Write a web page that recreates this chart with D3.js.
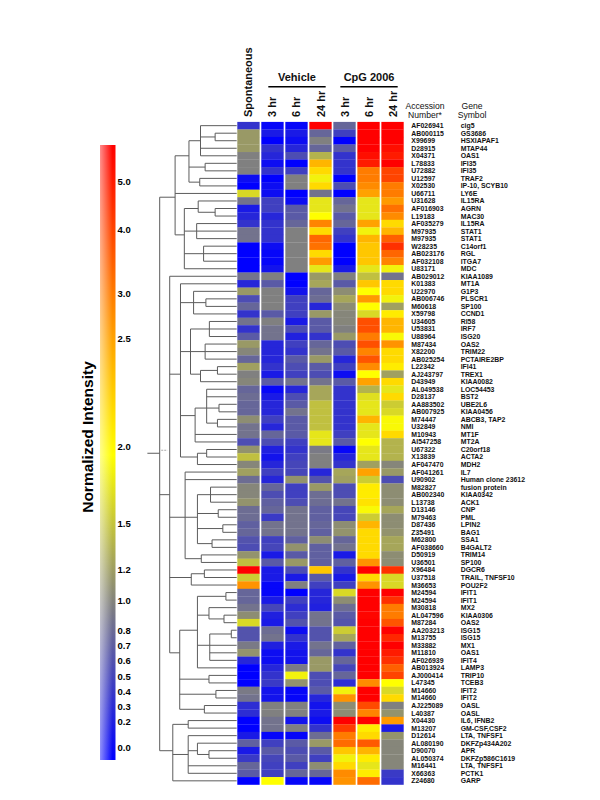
<!DOCTYPE html>
<html>
<head>
<meta charset="utf-8">
<script src="https://cdnjs.cloudflare.com/ajax/libs/d3/7.8.5/d3.min.js"></script>
<style>
   body {margin: 0; background: #fff;}
   text {font-family: "Liberation Sans", Arial, sans-serif; fill: #000;}
   .rowLabel {font-size: 6.9px; font-weight: bold; fill: #111;}
   .colLabel {font-size: 11px; font-weight: bold; fill: #111;}
   .groupLabel {font-size: 11px; font-weight: bold; fill: #111;}
   .headLabel {font-size: 8.6px; fill: #111; -webkit-text-stroke: 0.15px #111;}
   .legendTitle {font-size: 15.5px; font-weight: bold;}
   .dendro {stroke: #5c5c5c; stroke-width: 1; fill: none;}
</style>
</head>
<body>
<svg id="chart" width="600" height="800"></svg>
<script>
var conditions = ["Spontaneous", "V3", "V6", "V24", "C3", "C6", "C24"];
var conditionLabels = ["Spontaneous", "3 hr", "6 hr", "24 hr", "3 hr", "6 hr", "24 hr"];

var accessions = ["AF026941","AB000115","X99699","D28915","X04371","L78833","U72882","U12597","X02530","U66711",
   "U31628","AF016903","L19183","AF035279","M97935","M97935","W28235","AB023176","AF032108","U83171",
   "AB029012","K01383","U22970","AB006746","M60618","X59798","U34605","U53831","U88964","M87434",
   "X82200","AB025254","L22342","AJ243797","D43949","AL049538","D28137","AA883502","AB007925","M74447",
   "U32849","M10943","AI547258","U67322","X13839","AF047470","AF041261","U90902","M82827","AB002340",
   "L13738","D13146","M79463","D87436","Z35491","M62800","AF038660","D50919","U36501","X96484",
   "U37518","M36653","M24594","M24594","M30818","AL047596","M87284","AA203213","M13755","M33882",
   "M11810","AF026939","AB013924","AJ000414","L47345","M14660","M14660","AJ225089","L40387","X04430",
   "M13207","D12614","AL080190","D90070","AL050374","M16441","X66363","Z24680"];

var genes = ["cig5","GS3686","HSXIAPAF1","MTAP44","OAS1","IFI35","IFI35","TRAF2","IP-10, SCYB10","LY6E",
   "IL15RA","AGRN","MAC30","IL15RA","STAT1","STAT1","C14orf1","RGL","ITGA7","MDC",
   "KIAA1089","MT1A","G1P3","PLSCR1","SP100","CCND1","RI58","IRF7","ISG20","OAS2",
   "TRIM22","PCTAIRE2BP","IFI41","TREX1","KIAA0082","LOC54453","BST2","UBE2L6","KIAA0456","ABCB3, TAP2",
   "NMI","MT1F","MT2A","C20orf18","ACTA2","MDH2","IL7","Human clone 23612","fusion protein","KIAA0342",
   "ACK1","CNP","PML","LPIN2","BAG1","SSA1","B4GALT2","TRIM14","SP100","DGCR6",
   "TRAIL, TNFSF10","POU2F2","IFIT1","IFIT1","MX2","KIAA0306","OAS2","ISG15","ISG15","MX1",
   "OAS1","IFIT4","LAMP3","TRIP10","TCEB3","IFIT2","IFIT2","OASL","OASL","IL6, IFNB2",
   "GM-CSF,CSF2","LTA, TNFSF1","DKFZp434A202","APR","DKFZp586C1619","LTA, TNFSF1","PCTK1","GARP"];

//Normalized intensity, one row per gene, same order as conditions
var intensity = [
   [.4,.05,.05,6,.8,6,6],[1.2,.2,.2,.8,.5,6,6],[1.2,0,.1,1,0,6,6],[1.2,.4,.3,.8,.7,6,5.5],
   [1,.3,.6,1.4,.4,5.5,5],[1,.1,0,2.4,.4,5,6],[1,.4,.5,2.2,.4,3,4],[.1,0,1,1.9,0,3,4],
   [0,.1,1,2.2,.6,2.8,3],[1.7,.1,0,.9,0,2.5,3],[.9,.5,.1,1.8,.8,1.8,2.6],[.2,.5,.7,1.8,.9,1.8,3.2],
   [.3,.3,.7,2,.7,1.8,2.8],[.4,.4,.8,2.9,.8,2.5,2.2],[.9,.4,1,2.2,.5,1.9,2.4],[.9,.4,1,3.4,.4,2.4,3.5],
   [0,.1,1,3.2,0,2.3,4.5],[0,.05,1,2.2,0,2.3,3.4],[0,.05,1,2.6,0,2.3,2.9],[0,.15,1,1.8,.2,1.8,1.9],
   [.9,1,0,1.2,1,1.5,.9],[.3,.7,0,1.3,.7,2.3,2.2],[1.2,1,.15,.8,1.1,2,2.2],[.6,1,.5,.85,1.3,2.6,1.9],
   [.8,1,.5,.3,1.1,2,1.25],[.4,.7,.5,1.2,1.05,1.7,2.1],[.9,1,.2,.7,1.05,3.8,2.4],[.4,.9,.6,.7,1,3.8,2.4],
   [.7,.9,.25,.4,1.2,3,1.95],[1.2,.3,.5,.8,.6,3.8,2.7],[1.05,.3,.4,.9,.7,2.9,2.2],[.8,.3,.7,1.2,.3,3.7,2.2],
   [1.25,.4,.6,.7,.5,2.8,2.1],[1,.2,.5,.6,.1,2,1.25],[1.05,.7,.9,.9,.7,2.5,2.2],[.8,.05,.3,1.3,.4,1.4,1.8],
   [.85,.2,.6,1.3,.4,1.75,2.2],[.8,.3,.7,1.5,.4,1.8,1.6],[.8,.3,.9,1.5,.4,1.8,1.7],[1.1,.5,.7,1.5,.4,2.4,1.95],
   [.9,.3,.7,1.5,.4,1.8,1.95],[.9,.8,.7,1.8,.5,1.8,2.2],[.6,.6,.5,1.8,.7,2,1.4],[1.15,.25,.4,.95,.05,1.8,1.4],
   [1.5,.15,.5,1,.3,1.8,1.4],[1.05,.3,.55,1,.4,1.25,1.05],[1.25,.5,.55,.3,1.3,2.5,1.2],[.85,.3,1.15,.65,1.25,1.6,.6],
   [1.05,.8,.5,1.2,.6,2.1,1.1],[1.05,.6,.5,.85,.6,2.1,1.1],[1.15,.75,.6,.85,.9,2.15,1.1],[.85,.8,.9,.75,.55,1.95,1.3],
   [.85,.45,.9,.75,.55,1.6,1.1],[.75,.9,.9,.8,1.1,2.4,1.1],[.8,.9,.9,.75,1.15,2.2,1.15],[.65,.5,.75,1.1,.8,2.2,1.3],
   [.6,.55,1.15,.75,.9,2.2,1.3],[1.15,.2,.7,.75,.2,2.2,1.1],[1.5,.7,1.2,.75,.75,2.7,1.1],[6,.2,.6,2.3,.4,6,4.5],
   [1.6,.2,.2,.7,.2,2.2,1.7],[2.7,.05,1,.5,.5,2.7,1.7],[.8,.05,0,.3,1.7,6,6],[.8,.2,.5,.3,1.1,6,4.5],
   [.9,.55,.35,.25,.85,6,3],[1.1,.25,.5,.9,.7,5.8,3],[1.7,.2,.65,.9,.65,6,3.7],[.65,.85,.1,.65,1.6,6,6],
   [.65,.9,.4,.65,1.3,6,4.7],[.95,.25,.2,.9,.75,6,6],[1.15,.1,.15,.8,.4,6,5],[.3,.1,.15,1.2,.8,6,4.5],
   [0,.3,.95,1.2,.55,6,3.5],[0,.4,1.9,.6,.8,6,4],[0,.45,1.15,.6,.35,2.8,2],[.95,.15,.05,.7,1.9,6,1.7],
   [.9,.15,.05,.3,2.7,6,2.2],[.35,1,1,.15,1.1,3.9,1],[.35,1,1,.2,1.1,2.9,1.15],[0,.9,.15,.1,6,6,2.6],
   [0,.9,1,.4,4.2,2.1,.2],[.2,.05,.05,.85,3,2.2,1.15],[.75,.5,.7,1.2,3.3,3.6,1.05],[.2,.7,.6,.7,2.3,2.4,1.05],
   [.45,.55,.7,.5,1.9,2.1,1.05],[.8,.5,.5,1.1,2.2,1.8,1.05],[.7,.5,.8,.8,2.8,2.1,.45],[0,2,.05,.05,2.7,3.3,.4]
];

//Tree: [distance, child, child, ...], a plain number is a row (1 based)
var dendroTree = [100,
   [80,
      [62, [47, 1, [28, 2, 3], 4, 5], [41, 6, 7], [48, 8, 9]],
      10,
      [68, [50, 11, [28, 12, 13]], [52, 14, 15, 16], [43, 17, 18, 19], 20]],
   [87,
      21,
      [73,
         22,
         [56, 23, [40, 24, 25], 26],
         [60, [35.5, 27, 28, 29], [41, 30, 31, 32], [47, [25, 33, 34], 35]],
         [54, [39, 36, 37, [23, 38, 39], [25, 40, 41]], 42, 43],
         [51, [39, 44, 45], 46]],
      [67, 47, 48, [51, [34, 49, 50, 51], [24, 52, 53], [18, 54, 55], [32, 56, 57]], [46, 58, 59]],
      [59, [42, 60, 61], 62],
      [74,
         [51, [14, 63, 64], [36, 65, [16.5, 66, 67]], [35, [7, 68, 69], 70, 71, 72], 73],
         [36, 74, 75],
         [27, 76, 77],
         [42, 78, 79]]],
   [83, [63, 80, 81], [63, 82, [51, 83, [36, 84, 85]], 86, 87], 88]];
var rootStemDistance = 116;

var legendTicks = [0, .2, .3, .4, .5, .6, .7, .8, 1, 1.2, 1.5, 2, 2.5, 3, 4, 5];
var legendAnchors = [0, .2, 1, 1.5, 2, 2.5, 3, 4, 5];
var legendAnchorsY = [747, 721.7, 600, 523.3, 446, 338.3, 293.5, 229.3, 181.7];
var colorAnchors = [0, 1, 2, 2.5, 3, 4, 5, 6];
var colorStops = ["#0000ff", "#808080", "#ffff00", "#ffa200", "#ff7c00", "#ff4400", "#ff1b00", "#ff0000"];

var svg = d3.select("#chart");

var color = d3.scaleLinear().domain(colorAnchors).range(colorStops).clamp(true);
var xCol = d3.scaleBand().domain(conditions).range([237.3, 403.7]).paddingInner(0.07);
var yRow = d3.scaleBand().domain(d3.range(accessions.length)).range([121.9, 784.6]);
var xDist = d3.scaleLinear().domain([0, 100]).range([236.7, 159.7]);
var yLegend = d3.scaleLinear().domain(legendAnchors).range(legendAnchorsY);

//Heat map cells
var rows = svg.append("g").selectAll("g")
   .data(intensity)
   .enter()
   .append("g");
rows.selectAll("rect")
   .data(function(d, i){ return d.map(function(v, j){ return {row: i, col: conditions[j], value: v}; }); })
   .enter()
   .append("rect")
   .attr("x", function(d){ return xCol(d.col); })
   .attr("y", function(d){ return yRow(d.row); })
   .attr("width", xCol.bandwidth())
   .attr("height", yRow.bandwidth() + 0.2)
   .attr("fill", function(d){ return color(d.value); });

//Row labels
function rowLabels(labels, x){
   svg.append("g").selectAll("text")
      .data(labels)
      .enter()
      .append("text")
      .attr("class", "rowLabel")
      .attr("x", x)
      .attr("y", function(d, i){ return yRow(i) + yRow.bandwidth() / 2; })
      .attr("dy", "0.36em")
      .text(function(d){ return d; });
}
rowLabels(accessions, 411.3);
rowLabels(genes, 460.7);

//Column labels
svg.append("g").selectAll("text")
   .data(conditions)
   .enter()
   .append("text")
   .attr("class", "colLabel")
   .attr("text-anchor", "start")
   .attr("transform", function(d){
      return "translate(" + (xCol(d) + xCol.bandwidth() / 2 + 4) + ",117) rotate(-90)";
   })
   .text(function(d, i){ return conditionLabels[i]; });

//Treatment groups
var groups = [["Vehicle", "V3", "V24"], ["CpG 2006", "C3", "C24"]];
groups.forEach(function(g){
   var x1 = xCol(g[1]) + 7, x2 = xCol(g[2]) + xCol.bandwidth() - 6;
   svg.append("line")
      .attr("x1", x1).attr("x2", x2).attr("y1", 86.7).attr("y2", 86.7)
      .attr("stroke", "#000").attr("stroke-width", 1.4);
   svg.append("text")
      .attr("class", "groupLabel")
      .attr("text-anchor", "middle")
      .attr("x", (x1 + x2) / 2)
      .attr("y", 81)
      .text(g[0]);
});

//Header over the row labels
[["Accession", 425, 109], ["Number*", 425, 118], ["Gene", 472, 109], ["Symbol", 472, 118]].forEach(function(h){
   svg.append("text")
      .attr("class", "headLabel")
      .attr("text-anchor", "middle")
      .attr("x", h[1]).attr("y", h[2])
      .text(h[0]);
});

//Dendrogram, the stem of each node sits at the mean of its leaf rows
var dendro = svg.append("g").attr("class", "dendro");
function leafRows(node){
   if(typeof node === "number") return [node];
   return d3.merge(node.slice(1).map(leafRows));
}
function rowY(row){
   return yRow(row - 1) + yRow.bandwidth() / 2;
}
function nodeY(node){
   return d3.mean(leafRows(node), rowY);
}
function drawNode(node){
   var kids = node.slice(1);
   var x = xDist(node[0]);
   dendro.append("line")
      .attr("x1", x).attr("x2", x)
      .attr("y1", d3.min(kids, nodeY)).attr("y2", d3.max(kids, nodeY));
   kids.forEach(function(kid){
      var kidDist = typeof kid === "number" ? 0 : kid[0];
      dendro.append("line")
         .attr("x1", x).attr("x2", xDist(kidDist))
         .attr("y1", nodeY(kid)).attr("y2", nodeY(kid));
      if(typeof kid !== "number") drawNode(kid);
   });
}
drawNode(dendroTree);
dendro.append("line")
   .attr("x1", xDist(rootStemDistance)).attr("x2", xDist(100))
   .attr("y1", nodeY(dendroTree)).attr("y2", nodeY(dendroTree));
svg.append("line")
   .attr("x1", xDist(98)).attr("x2", xDist(90))
   .attr("y1", nodeY(dendroTree) - 3).attr("y2", nodeY(dendroTree) - 3)
   .attr("stroke", "#aaa").attr("stroke-width", 1).attr("stroke-dasharray", "2,1");

//Legend bar
var barTop = 145, barBottom = 760, barLeft = 100, barWidth = 15.5;
var defs = svg.append("defs");
var barGrad = defs.append("linearGradient")
   .attr("id", "barGrad")
   .attr("x1", 0).attr("x2", 0).attr("y1", 0).attr("y2", 1);
//y of each colour stop, below 2 it follows the tick scale, above it runs evenly up to the top of the bar
var barStops = [{v: 6, y: barTop}, {v: 5, y: 181.7}, {v: 4, y: 229.3}, {v: 3, y: 293.5}, {v: 2.5, y: 338.3},
   {v: 2, y: 455}, {v: 1, y: 605}, {v: 0, y: barBottom}];
barGrad.selectAll("stop")
   .data(barStops)
   .enter()
   .append("stop")
   .attr("offset", function(d){ return (d.y - barTop) / (barBottom - barTop); })
   .attr("stop-color", function(d){ return color(d.v); });
var fadeGrad = defs.append("linearGradient")
   .attr("id", "fadeGrad")
   .attr("x1", 0).attr("x2", 1).attr("y1", 0).attr("y2", 0);
fadeGrad.append("stop").attr("offset", 0).attr("stop-color", "#fff").attr("stop-opacity", 0.55);
fadeGrad.append("stop").attr("offset", 0.8).attr("stop-color", "#fff").attr("stop-opacity", 0);
svg.append("rect")
   .attr("x", barLeft).attr("y", barTop).attr("width", barWidth).attr("height", barBottom - barTop)
   .attr("fill", "url(#barGrad)");
svg.append("rect")
   .attr("x", barLeft).attr("y", barTop).attr("width", barWidth).attr("height", barBottom - barTop)
   .attr("fill", "url(#fadeGrad)");

//Legend ticks
var legendAxis = d3.axisRight(yLegend)
   .tickValues(legendTicks)
   .tickSize(0)
   .tickPadding(2)
   .tickFormat(d3.format(".1f"));
var legendG = svg.append("g")
   .attr("transform", "translate(" + (barLeft + barWidth) + ",0)")
   .call(legendAxis);
legendG.select(".domain").remove();
legendG.selectAll("text")
   .attr("font-family", '"Liberation Sans", Arial, sans-serif')
   .attr("font-size", 9.5)
   .attr("font-weight", "bold")
   .attr("fill", "#111");

svg.append("text")
   .attr("class", "legendTitle")
   .attr("text-anchor", "middle")
   .attr("transform", "translate(92.5,437) rotate(-90)")
   .text("Normalized Intensity");
</script>
</body>
</html>
